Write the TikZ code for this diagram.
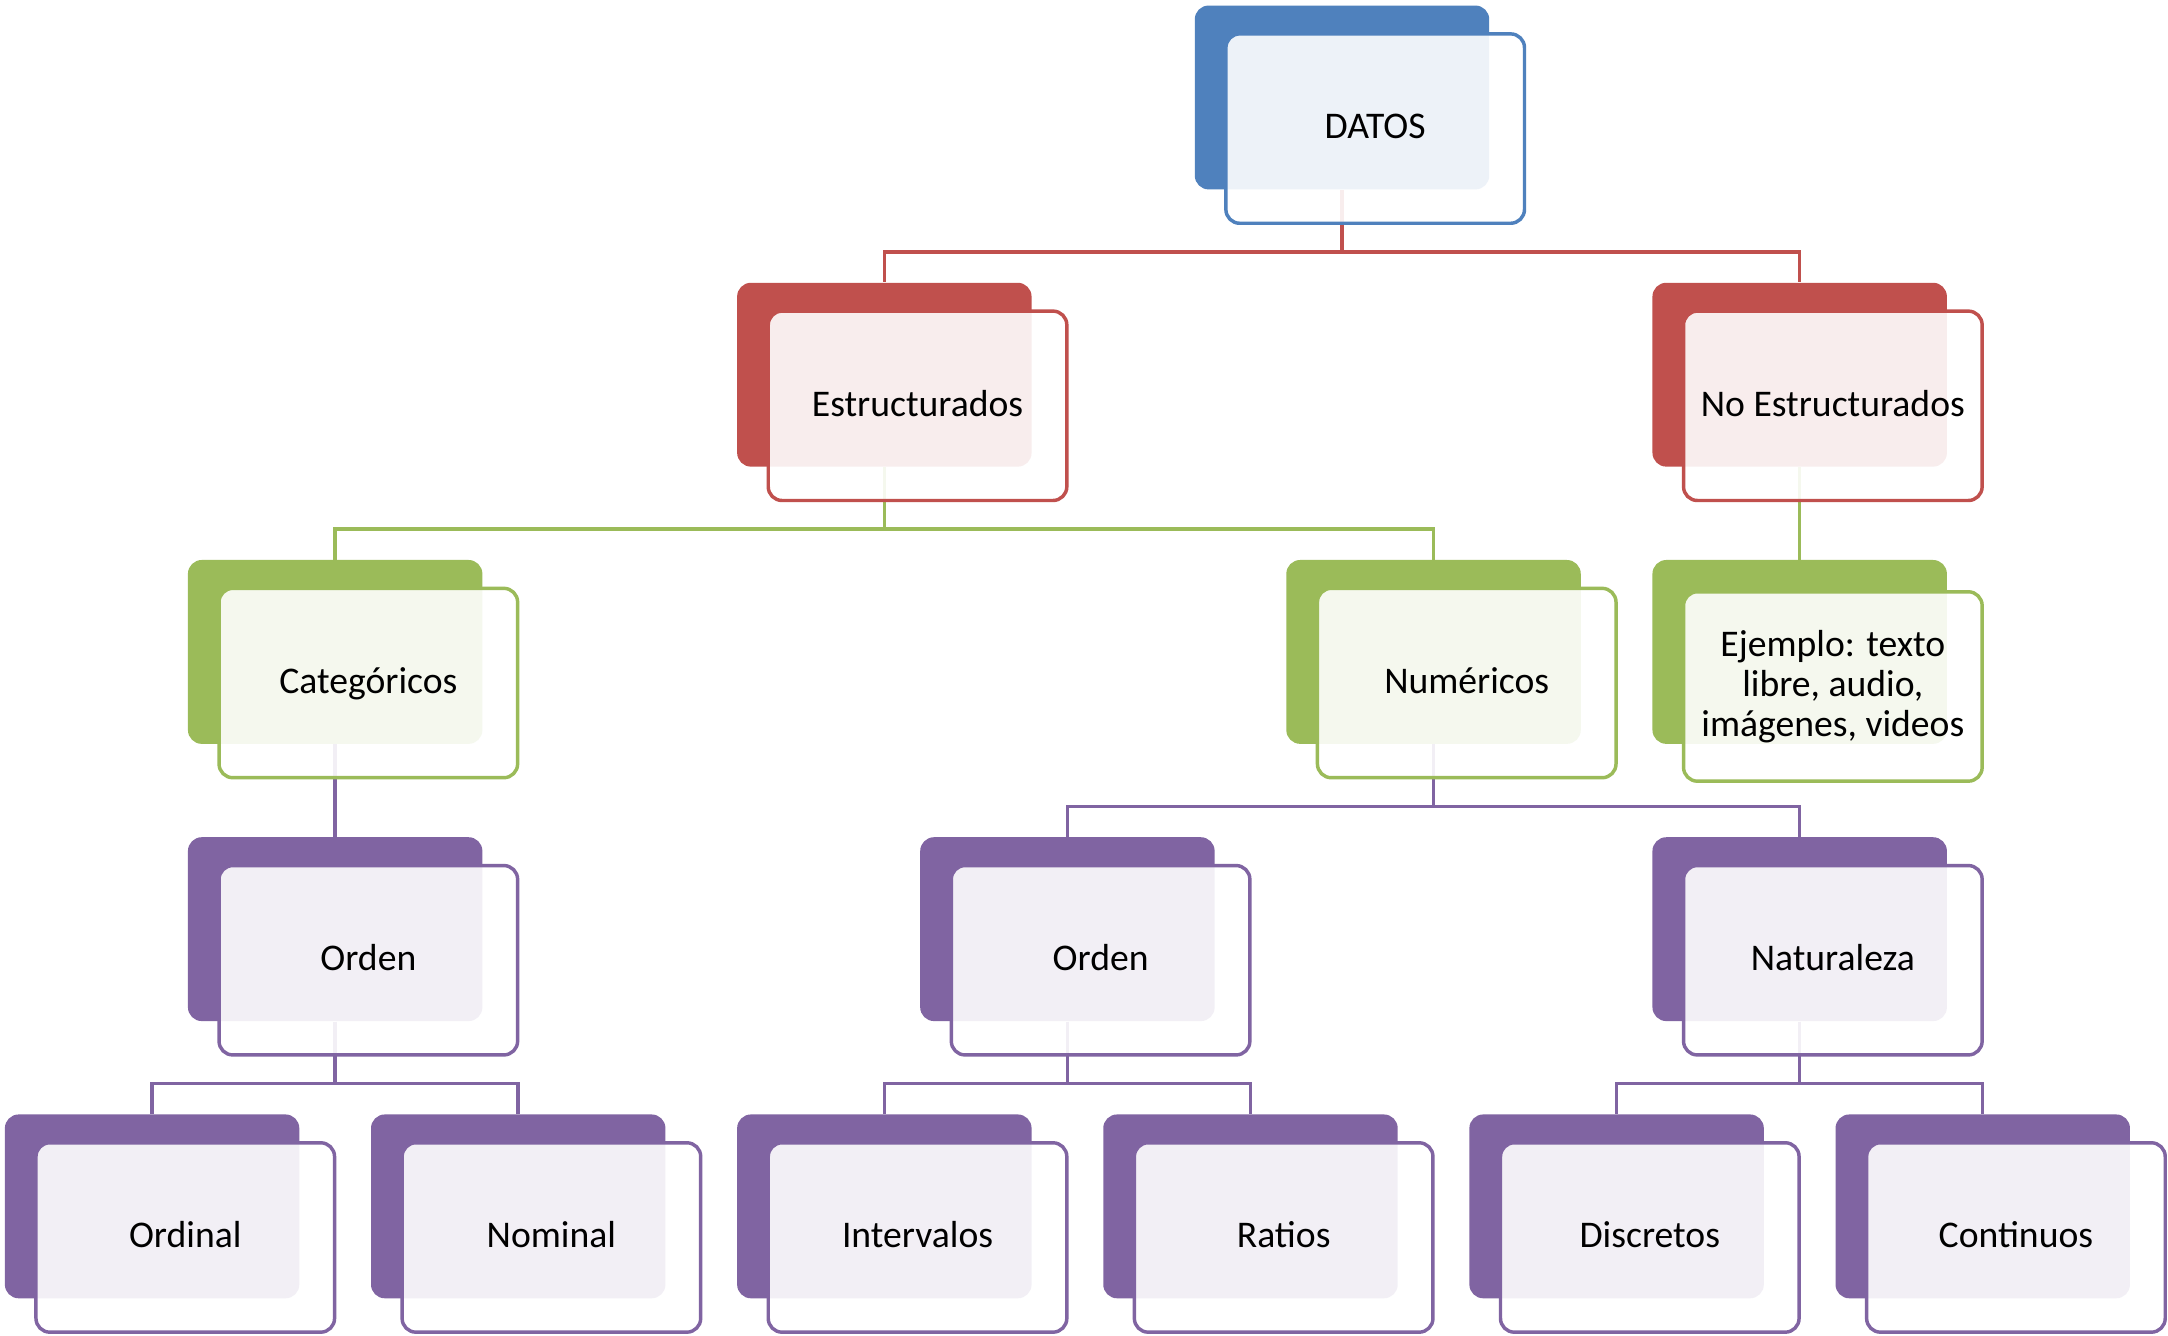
\documentclass[tikz,border=0pt]{standalone}
\usepackage{fontspec}
\setmainfont{Carlito}
\usepackage{xcolor}
\usepackage{tikz}
\usetikzlibrary{positioning,calc}

\definecolor{datBlue}{HTML}{4F81BD}
\definecolor{datRed}{HTML}{C0504D}
\definecolor{datGreen}{HTML}{9BBB59}
\definecolor{datPurple}{HTML}{8064A2}

\tikzset{
    backbox/.style={fill=#1, draw=none, rounded corners=0.2cm, minimum width=4.26cm, minimum height=2.66cm, inner sep=0pt},
    frontbox/.style={draw=#1, line width=0.05cm, fill=white, fill opacity=0.9, text opacity=1, rounded corners=0.2cm,
        minimum width=4.32cm, minimum height=2.74cm, inner sep=0pt, align=center, xshift=0.48cm, yshift=-0.45cm,
        text height=0.95em, text depth=0.1em, font=\fontsize{15.5}{16.5}\selectfont},
    linkline/.style={draw=#1, line width=0.05cm},
}

\begin{document}
\begin{tikzpicture}[x=0.02cm, y=-0.02cm]
    \path[fill=white, use as bounding box] (0,0) rectangle (1568,966);

    % back plates
    \node[backbox=datBlue] (datosBg) at (970.6,70.5) {};
    \node[backbox=datRed] (estructBg) at (639.6,271) {};
    \node[backbox=datRed] (noEstructBg) at (1301.6,271) {};
    \node[backbox=datGreen] (categBg) at (242.4,471.5) {};
    \node[backbox=datGreen] (numerBg) at (1036.8,471.5) {};
    \node[backbox=datGreen] (ejemploBg) at (1301.6,471.5) {};
    \node[backbox=datPurple] (ordenCatBg) at (242.4,672) {};
    \node[backbox=datPurple] (ordenNumBg) at (772,672) {};
    \node[backbox=datPurple] (naturBg) at (1301.6,672) {};
    \node[backbox=datPurple] (ordinalBg) at (110,872.5) {};
    \node[backbox=datPurple] (nominalBg) at (374.8,872.5) {};
    \node[backbox=datPurple] (intervBg) at (639.6,872.5) {};
    \node[backbox=datPurple] (ratiosBg) at (904.4,872.5) {};
    \node[backbox=datPurple] (discretBg) at (1169.2,872.5) {};
    \node[backbox=datPurple] (continBg) at (1434,872.5) {};

    % connectors
    \draw[linkline=datRed] (datosBg.south) |- ([yshift=0.44cm]estructBg.north) -- (estructBg.north);
    \draw[linkline=datRed] (datosBg.south) |- ([yshift=0.44cm]noEstructBg.north) -- (noEstructBg.north);
    \draw[linkline=datGreen] (estructBg.south) |- ([yshift=0.44cm]categBg.north) -- (categBg.north);
    \draw[linkline=datGreen] (estructBg.south) |- ([yshift=0.44cm]numerBg.north) -- (numerBg.north);
    \draw[linkline=datGreen] (noEstructBg.south) -- (ejemploBg.north);
    \draw[linkline=datPurple] (categBg.south) -- (ordenCatBg.north);
    \draw[linkline=datPurple] (numerBg.south) |- ([yshift=0.44cm]ordenNumBg.north) -- (ordenNumBg.north);
    \draw[linkline=datPurple] (numerBg.south) |- ([yshift=0.44cm]naturBg.north) -- (naturBg.north);
    \draw[linkline=datPurple] (ordenCatBg.south) |- ([yshift=0.44cm]ordinalBg.north) -- (ordinalBg.north);
    \draw[linkline=datPurple] (ordenCatBg.south) |- ([yshift=0.44cm]nominalBg.north) -- (nominalBg.north);
    \draw[linkline=datPurple] (ordenNumBg.south) |- ([yshift=0.44cm]intervBg.north) -- (intervBg.north);
    \draw[linkline=datPurple] (ordenNumBg.south) |- ([yshift=0.44cm]ratiosBg.north) -- (ratiosBg.north);
    \draw[linkline=datPurple] (naturBg.south) |- ([yshift=0.44cm]discretBg.north) -- (discretBg.north);
    \draw[linkline=datPurple] (naturBg.south) |- ([yshift=0.44cm]continBg.north) -- (continBg.north);

    % front cards with text
    \node[frontbox=datBlue] (datos) at (datosBg) {DATOS};
    \node[frontbox=datRed] (estruct) at (estructBg) {Estructurados};
    \node[frontbox=datRed] (noEstruct) at (noEstructBg) {No Estructurados};
    \node[frontbox=datGreen] (categ) at (categBg) {Categóricos};
    \node[frontbox=datGreen] (numer) at (numerBg) {Numéricos};
    \node[frontbox=datGreen, text height=, text depth=, yshift=-0.05cm] (ejemplo) at (ejemploBg) {Ejemplo: texto\\libre, audio,\\imágenes, videos};
    \node[frontbox=datPurple] (ordenCat) at (ordenCatBg) {Orden};
    \node[frontbox=datPurple] (ordenNum) at (ordenNumBg) {Orden};
    \node[frontbox=datPurple] (natur) at (naturBg) {Naturaleza};
    \node[frontbox=datPurple] (ordinal) at (ordinalBg) {Ordinal};
    \node[frontbox=datPurple] (nominal) at (nominalBg) {Nominal};
    \node[frontbox=datPurple] (interv) at (intervBg) {Intervalos};
    \node[frontbox=datPurple] (ratios) at (ratiosBg) {Ratios};
    \node[frontbox=datPurple] (discret) at (discretBg) {Discretos};
    \node[frontbox=datPurple] (contin) at (continBg) {Continuos};
\end{tikzpicture}
\end{document}
